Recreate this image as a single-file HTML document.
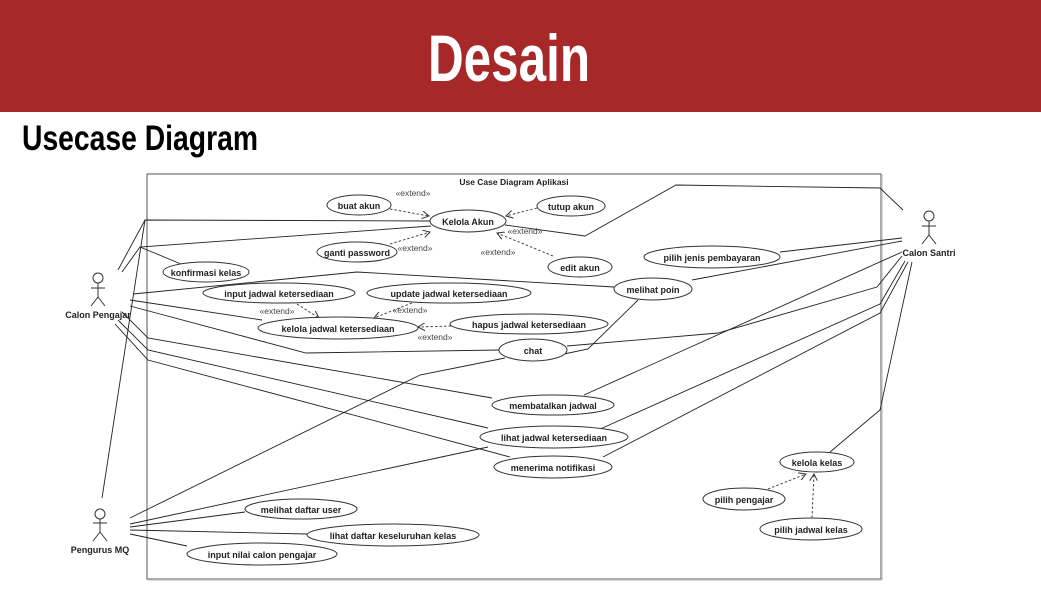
<!DOCTYPE html>
<html><head><meta charset="utf-8"><style>
html,body{margin:0;padding:0;background:#fff;}
svg{display:block;}
.u{font-family:"Liberation Sans",Arial,sans-serif;font-size:9px;font-weight:bold;fill:#222;text-anchor:middle;}
.x{font-family:"Liberation Sans",Arial,sans-serif;font-size:8.5px;fill:#444;text-anchor:middle;}
.e{fill:#fff;stroke:#333;stroke-width:1;}
.l{fill:none;stroke:#222;stroke-width:0.9;}
.d{fill:none;stroke:#333;stroke-width:0.9;stroke-dasharray:2.5,2;}
</style></head><body>
<svg width="1041" height="593" viewBox="0 0 1041 593" xmlns="http://www.w3.org/2000/svg">
<defs>
<marker id="a" markerWidth="8" markerHeight="8" refX="7" refY="4" orient="auto" markerUnits="userSpaceOnUse">
<path d="M0,0 L7,4 L0,8" fill="none" stroke="#333" stroke-width="1"/></marker>
</defs>
<rect x="0" y="0" width="1041" height="112" fill="#a72828"/>
<text x="428" y="81" font-family="Liberation Sans,Arial,sans-serif" font-weight="bold" font-size="66" fill="#fff" textLength="162" lengthAdjust="spacingAndGlyphs">Desain</text>
<text x="22" y="150" font-family="Liberation Sans,Arial,sans-serif" font-weight="bold" font-size="35" fill="#000" textLength="236" lengthAdjust="spacingAndGlyphs">Usecase Diagram</text>

<rect x="147" y="174" width="734" height="405" fill="#fff" stroke="#555" stroke-width="1"/>
<line x1="148" y1="580" x2="882" y2="580" stroke="#ccc" stroke-width="1.5"/>
<line x1="882" y1="175" x2="882" y2="580" stroke="#ccc" stroke-width="1.5"/>
<text x="514" y="185" class="u" style="font-size:8.5px">Use Case Diagram Aplikasi</text>

<polyline class="l" points="118,270 145,220 430,221"/>
<polyline class="l" points="122,272 140,247 431,226"/>
<polyline class="l" points="140,247 181,264"/>
<polyline class="l" points="102,498 145,220"/>
<polyline class="l" points="133,294 357,272 614,287"/>
<polyline class="l" points="130,300 262,320"/>
<polyline class="l" points="130,306 306,353 499,350"/>
<polyline class="l" points="122,312 148,338 492,398"/>
<polyline class="l" points="118,320 148,350 488,428"/>
<polyline class="l" points="115,324 148,360 510,457"/>
<polyline class="l" points="130,518 420,375 505,358"/>
<polyline class="l" points="130,524 488,447"/>
<polyline class="l" points="130,527 245,512"/>
<polyline class="l" points="130,530 307,534"/>
<polyline class="l" points="130,534 187,546"/>
<polyline class="l" points="903,210 880,188 676,185 585,236 505,225"/>
<polyline class="l" points="902,238 780,252"/>
<polyline class="l" points="902,241 692,280"/>
<polyline class="l" points="902,256 877,287 718,333 567,346"/>
<polyline class="l" points="638,300 588,349 564,354"/>
<polyline class="l" points="902,252 584,395"/>
<polyline class="l" points="905,261 880,304 598,430"/>
<polyline class="l" points="908,262 880,313 603,457"/>
<polyline class="l" points="912,262 880,410 830,452"/>

<line class="d" x1="390" y1="209" x2="429" y2="216" marker-end="url(#a)"/>
<line class="d" x1="537" y1="208" x2="506" y2="216" marker-end="url(#a)"/>
<line class="d" x1="390" y1="244" x2="430" y2="232" marker-end="url(#a)"/>
<line class="d" x1="553" y1="256" x2="497" y2="233" marker-end="url(#a)"/>
<line class="d" x1="297" y1="304" x2="319" y2="318" marker-end="url(#a)"/>
<line class="d" x1="412" y1="303" x2="374" y2="318" marker-end="url(#a)"/>
<line class="d" x1="451" y1="326" x2="418" y2="327" marker-end="url(#a)"/>
<line class="d" x1="768" y1="489" x2="806" y2="474" marker-end="url(#a)"/>
<line class="d" x1="812" y1="518" x2="814" y2="474" marker-end="url(#a)"/>
<text class="x" x="413" y="196">«extend»</text>
<text class="x" x="415" y="251">«extend»</text>
<text class="x" x="525" y="234">«extend»</text>
<text class="x" x="498" y="255">«extend»</text>
<text class="x" x="277" y="314">«extend»</text>
<text class="x" x="410" y="313">«extend»</text>
<text class="x" x="435" y="340">«extend»</text>

<g>
<ellipse class="e" cx="359" cy="205" rx="32" ry="10"/><text class="u" x="359" y="209">buat akun</text>
<ellipse class="e" cx="468" cy="221" rx="38" ry="11"/><text class="u" x="468" y="225">Kelola Akun</text>
<ellipse class="e" cx="571" cy="206" rx="34" ry="10"/><text class="u" x="571" y="210">tutup akun</text>
<ellipse class="e" cx="357" cy="252" rx="40" ry="10"/><text class="u" x="357" y="256">ganti password</text>
<ellipse class="e" cx="580" cy="267" rx="32" ry="10"/><text class="u" x="580" y="271">edit akun</text>
<ellipse class="e" cx="206" cy="272" rx="43" ry="10"/><text class="u" x="206" y="276">konfirmasi kelas</text>
<ellipse class="e" cx="712" cy="257" rx="68" ry="11"/><text class="u" x="712" y="261">pilih jenis pembayaran</text>
<ellipse class="e" cx="653" cy="289" rx="39" ry="11"/><text class="u" x="653" y="293">melihat poin</text>
<ellipse class="e" cx="279" cy="293" rx="76" ry="10"/><text class="u" x="279" y="297">input jadwal ketersediaan</text>
<ellipse class="e" cx="449" cy="293" rx="82" ry="10"/><text class="u" x="449" y="297">update jadwal ketersediaan</text>
<ellipse class="e" cx="338" cy="328" rx="80" ry="11"/><text class="u" x="338" y="332">kelola jadwal ketersediaan</text>
<ellipse class="e" cx="529" cy="324" rx="79" ry="10"/><text class="u" x="529" y="328">hapus jadwal ketersediaan</text>
<ellipse class="e" cx="533" cy="350" rx="34" ry="11"/><text class="u" x="533" y="354">chat</text>
<ellipse class="e" cx="553" cy="405" rx="61" ry="10"/><text class="u" x="553" y="409">membatalkan jadwal</text>
<ellipse class="e" cx="554" cy="437" rx="74" ry="11"/><text class="u" x="554" y="441">lihat jadwal ketersediaan</text>
<ellipse class="e" cx="553" cy="467" rx="59" ry="11"/><text class="u" x="553" y="471">menerima notifikasi</text>
<ellipse class="e" cx="817" cy="462" rx="37" ry="10"/><text class="u" x="817" y="466">kelola kelas</text>
<ellipse class="e" cx="744" cy="499" rx="41" ry="11"/><text class="u" x="744" y="503">pilih pengajar</text>
<ellipse class="e" cx="811" cy="529" rx="51" ry="11"/><text class="u" x="811" y="533">pilih jadwal kelas</text>
<ellipse class="e" cx="301" cy="509" rx="56" ry="10"/><text class="u" x="301" y="513">melihat daftar user</text>
<ellipse class="e" cx="393" cy="535" rx="86" ry="11"/><text class="u" x="393" y="539">lihat daftar keseluruhan kelas</text>
<ellipse class="e" cx="262" cy="554" rx="75" ry="11"/><text class="u" x="262" y="558">input nilai calon pengajar</text>
</g>

<g fill="none" stroke="#333" stroke-width="1">
<circle cx="98" cy="278" r="5"/><line x1="98" y1="283" x2="98" y2="297"/><line x1="91" y1="288" x2="105" y2="288"/><line x1="98" y1="297" x2="91" y2="306"/><line x1="98" y1="297" x2="105" y2="306"/>
<circle cx="929" cy="216" r="5"/><line x1="929" y1="221" x2="929" y2="235"/><line x1="922" y1="226" x2="936" y2="226"/><line x1="929" y1="235" x2="922" y2="244"/><line x1="929" y1="235" x2="936" y2="244"/>
<circle cx="100" cy="514" r="5"/><line x1="100" y1="519" x2="100" y2="532"/><line x1="93" y1="523" x2="107" y2="523"/><line x1="100" y1="532" x2="93" y2="541"/><line x1="100" y1="532" x2="107" y2="541"/>
</g>
<text class="u" x="98" y="318">Calon Pengajar</text>
<text class="u" x="929" y="256">Calon Santri</text>
<text class="u" x="100" y="553">Pengurus MQ</text>
</svg>
</body></html>
